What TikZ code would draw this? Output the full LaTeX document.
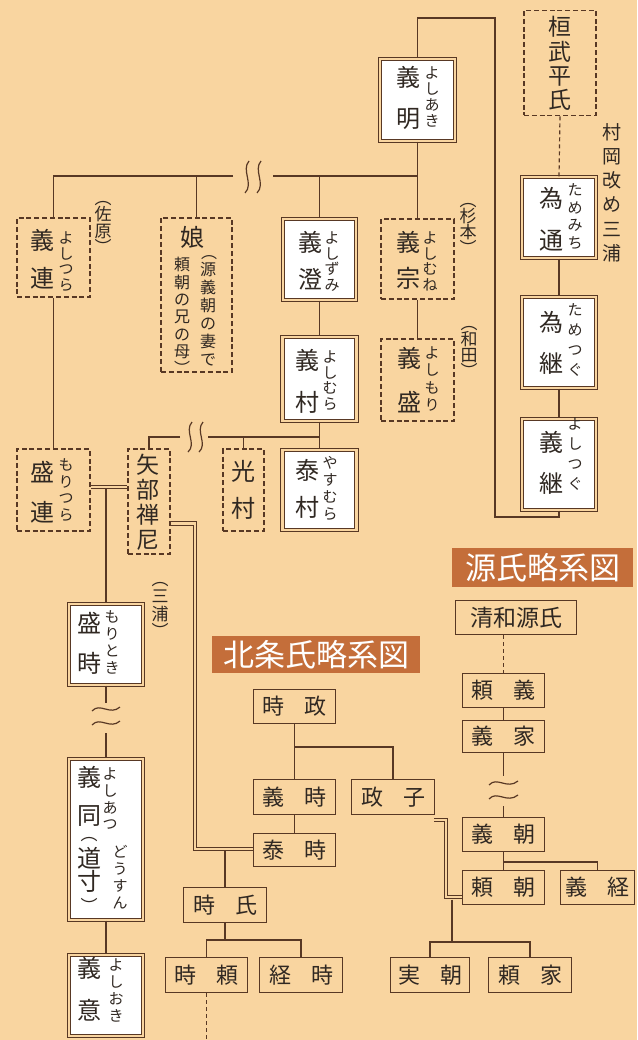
\documentclass[tikz,border=0pt]{standalone}
\usepackage{fontspec}
\newfontfamily\jp{Noto Sans CJK JP}
\definecolor{bgc}{RGB}{249,213,160}
\definecolor{lnc}{RGB}{88,56,36}
\definecolor{txc}{RGB}{48,40,34}
\definecolor{ttlc}{RGB}{196,110,58}
\tikzset{
  every node/.style={font=\jp, text=txc, inner sep=0pt},
  sz/.style n args={2}{minimum width=#1, minimum height=#2},
  conn/.style={draw=lnc, line width=1.3pt},
  dashconn/.style={draw=lnc, line width=1.2pt, dash pattern=on 4pt off 3pt},
  dconn/.style={draw=lnc, line width=1pt, double=bgc, double distance=2.6pt},
  wv/.style={draw=lnc, line width=1.2pt},
  dbox/.style={draw=lnc, line width=1.2pt, double=bgc, double distance=2.2pt, fill=white},
  nbox/.style={draw=lnc, line width=1.8pt, dash pattern=on 5pt off 2.8pt},
  sbox/.style={draw=lnc, line width=1.2pt, font=\jp\fontsize{22}{22}\selectfont},
  ttl/.style={fill=ttlc, text=white, font=\jp\fontsize{31}{31}\selectfont},
  vt/.style n args={2}{font=\jp\fontsize{#1}{#2}\selectfont, align=center},
}
\begin{document}
\begin{tikzpicture}[x=1pt,y=-1pt]
\fill[bgc] (0,0) rectangle (637,1040);
\useasboundingbox (0,0) rectangle (637,1040);

% ---------- helper row coordinates ----------
\coordinate (r18) at (0,18);
\coordinate (r176) at (0,176);
\coordinate (r437) at (0,437);
\coordinate (r487) at (0,487);
\coordinate (r517) at (0,517);
\coordinate (r523) at (0,523.5);
\coordinate (r747) at (0,747);
\coordinate (r849) at (0,849);
\coordinate (r862) at (0,862);
\coordinate (r897) at (0,897);
\coordinate (r940) at (0,940);
\coordinate (r942) at (0,942);
\coordinate (c495) at (495,0);
\coordinate (c195) at (195,0);
\coordinate (c446) at (446,0);

% ---------- Miura (upper part) boxes ----------
\node[nbox, sz={72}{105}] (kanmu) at (560,63) {};
\node[dbox, sz={74}{81}] (tamemichi) at (559,217.5) {};
\node[dbox, sz={74}{91}] (tametsugu) at (559,342.5) {};
\node[dbox, sz={74}{91}] (yoshitsugu) at (559,464.5) {};
\node[dbox, sz={75}{82}] (yoshiaki) at (417.5,100) {};
\node[nbox, sz={73}{79}] (yoshitsura) at (53.5,257.5) {};
\node[nbox, sz={71}{154}] (musume) at (196.5,295) {};
\node[dbox, sz={73}{81}] (yoshizumi) at (319.5,259.5) {};
\node[nbox, sz={73}{80}] (yoshimune) at (417.5,259) {};
\node[nbox, sz={73}{82}] (yoshimori) at (417.5,380) {};
\node[dbox, sz={74}{84}] (yoshimura) at (319.5,379) {};
\node[dbox, sz={74}{80}] (yasumura) at (319.5,490) {};
\node[nbox, sz={41}{82}] (mitsumura) at (243.5,490) {};
\node[nbox, sz={42}{105}] (yabe) at (149,501.5) {};
\node[nbox, sz={73}{82}] (moritsura) at (53.5,490) {};
\node[dbox, sz={74}{81}] (moritoki) at (106,644.5) {};
\node[dbox, sz={74}{161}] (yoshiatsu) at (106,839.5) {};
\node[dbox, sz={74}{81}] (yoshioki) at (106,995.5) {};

% ---------- texts in the upper part ----------
\node[vt={23}{24.3}] (kanmuT) at (560,63.5) {桓\\武\\平\\氏};
\node[vt={19}{24.2}] (muraokaT) at (612,192.5) {村\\岡\\改\\め\\三\\浦};
\node[vt={24}{42}] (tamemichiK) at (551,219) {為\\通};
\node[vt={15}{17.7}] (tamemichiR) at (575,216.5) {た\\め\\み\\ち};
\node[vt={24}{41}] (tametsuguK) at (551,342.5) {為\\継};
\node[vt={15}{20}] (tametsuguR) at (575,340) {た\\め\\つ\\ぐ};
\node[vt={24}{41}] (yoshitsuguK) at (551,462.5) {義\\継};
\node[vt={15}{20}] (yoshitsuguR) at (575,454) {よ\\し\\つ\\ぐ};
\node[vt={24}{41}] (yoshiakiK) at (408,97.5) {義\\明};
\node[vt={15}{16}] (yoshiakiR) at (432,97) {よ\\し\\あ\\き};
\node[vt={24}{38}] (yoshitsuraK) at (42.5,259) {義\\連};
\node[vt={15}{15.5}] (yoshitsuraR) at (66,261.5) {よ\\し\\つ\\ら};
\node[vt={17}{16.5}] (saharaT) at (103,227.5) {︵\\佐\\原\\︶};
\node[vt={24}{24}] (musumeK) at (192,237) {娘};
\node[vt={16}{16}] (musumeP) at (209,258) {︵};
\node[vt={16}{18}] (musumeR1) at (208,314) {源\\義\\朝\\の\\妻\\で};
\node[vt={16}{17.3}] (musumeR2) at (182,316) {頼\\朝\\の\\兄\\の\\母\\︶};
\node[vt={24}{37}] (yoshizumiK) at (310,260.5) {義\\澄};
\node[vt={15}{15.7}] (yoshizumiR) at (332,261.5) {よ\\し\\ず\\み};
\node[vt={24}{36}] (yoshimuneK) at (408,260) {義\\宗};
\node[vt={15}{15.7}] (yoshimuneR) at (430,261.5) {よ\\し\\む\\ね};
\node[vt={17}{16}] (sugimotoT) at (468,228.5) {︵\\杉\\本\\︶};
\node[vt={24}{44}] (yoshimoriK) at (409,380) {義\\盛};
\node[vt={15}{17.3}] (yoshimoriR) at (432,379) {よ\\し\\も\\り};
\node[vt={17}{16}] (wadaT) at (469,352) {︵\\和\\田\\︶};
\node[vt={24}{42}] (yoshimuraK) at (307,381) {義\\村};
\node[vt={15}{15.7}] (yoshimuraR) at (330,380.5) {よ\\し\\む\\ら};
\node[vt={24}{37}] (yasumuraK) at (307,488.5) {泰\\村};
\node[vt={15}{17}] (yasumuraR) at (330,488.5) {や\\す\\む\\ら};
\node[vt={24}{37}] (mitsumuraK) at (243.5,490) {光\\村};
\node[vt={23}{25}] (yabeK) at (148,502) {矢\\部\\禅\\尼};
\node[vt={24}{40}] (moritsuraK) at (42.5,492) {盛\\連};
\node[vt={15}{16.7}] (moritsuraR) at (66,490) {も\\り\\つ\\ら};
\node[vt={24}{40}] (moritokiK) at (89,643) {盛\\時};
\node[vt={15}{17}] (moritokiR) at (112,642.5) {も\\り\\と\\き};
\node[vt={17}{17.3}] (miuraT) at (160,610) {︵\\三\\浦\\︶};
\node[vt={24}{38}] (yoshiatsuK1) at (89,796) {義\\同};
\node[vt={17}{17}] (yoshiatsuP1) at (89,840) {︵};
\node[vt={24}{23}] (yoshiatsuK2) at (89,869.5) {道\\寸};
\node[vt={17}{17}] (yoshiatsuP2) at (89,905) {︶};
\node[vt={15}{16.7}] (yoshiatsuR1) at (110,799) {よ\\し\\あ\\つ};
\node[vt={15}{17}] (yoshiatsuR2) at (120,877.5) {ど\\う\\す\\ん};
\node[vt={24}{42}] (yoshiokiK) at (89,989) {義\\意};
\node[vt={15}{17}] (yoshiokiR) at (116,990.5) {よ\\し\\お\\き};

% ---------- connectors, upper part ----------
\draw[dashconn] (kanmu.south) -- (tamemichi.north);
\draw[conn] (tamemichi.south) -- (tametsugu.north);
\draw[conn] (tametsugu.south) -- (yoshitsugu.north);
\draw[conn] (yoshitsugu.south) -- (yoshitsugu.south |- r517) -- (c495 |- r517) -- (c495 |- r18) -- (yoshiaki.north |- r18) -- (yoshiaki.north);
\draw[conn] (yoshiaki.south) -- (yoshimune.north);
\draw[conn] (yoshiaki.south |- r176) -- (273,176);
\draw[conn] (233,176) -- (yoshitsura.north |- r176) -- (yoshitsura.north);
\draw[conn] (musume.north |- r176) -- (musume.north);
\draw[conn] (yoshizumi.north |- r176) -- (yoshizumi.north);
\draw[wv] (249,161) .. controls (241,170) and (254,184) .. (245,193);
\draw[wv] (261,161) .. controls (253,170) and (266,184) .. (257,193);
\draw[conn] (yoshimune.south) -- (yoshimori.north);
\draw[conn] (yoshizumi.south) -- (yoshimura.north);
\draw[conn] (yoshimura.south) -- (yasumura.north);
\draw[conn] (yasumura.north |- r437) -- (208,437);
\draw[conn] (180,437) -- (yabe.north |- r437) -- (yabe.north);
\draw[conn] (mitsumura.north |- r437) -- (mitsumura.north);
\draw[wv] (192,422) .. controls (184,431) and (197,444) .. (188,452);
\draw[wv] (203,422) .. controls (195,431) and (208,444) .. (199,452);
\draw[conn] (yoshitsura.south) -- (moritsura.north);
\draw[dconn] (moritsura.east |- r487) -- (yabe.west |- r487);
\coordinate (mj) at (106,489);
\draw[conn] (mj) -- (moritoki.north);
\draw[conn] (moritoki.south) -- (106,703);
\draw[wv] (92,711) .. controls (100,702) and (110,716) .. (120,707);
\draw[wv] (92,725) .. controls (100,716) and (110,730) .. (120,721);
\draw[conn] (106,733) -- (yoshiatsu.north);
\draw[conn] (yoshiatsu.south) -- (yoshioki.north);

% ---------- Hojo ----------
\node[ttl, sz={208}{37}] (hojoT) at (316,654.5) {北条氏略系図};
\node[sbox, sz={82}{34}] (tokimasa) at (294.5,706.5) {時\hspace{20pt}政};
\node[sbox, sz={82}{35}] (yoshitoki) at (294.5,797) {義\hspace{20pt}時};
\node[sbox, sz={83}{35}] (masako) at (393,797) {政\hspace{20pt}子};
\node[sbox, sz={82}{33}] (yasutoki) at (294.5,850) {泰\hspace{20pt}時};
\node[sbox, sz={83}{35}] (tokiuji) at (225,905) {時\hspace{20pt}氏};
\node[sbox, sz={82}{35}] (tokiyori) at (206.5,975) {時\hspace{20pt}頼};
\node[sbox, sz={83}{35}] (tsunetoki) at (301,975) {経\hspace{20pt}時};
\draw[conn] (tokimasa.south) -- (yoshitoki.north);
\draw[conn] (tokimasa.south |- r747) -| (masako.north);
\draw[conn] (yoshitoki.south) -- (yasutoki.north);
\draw[dconn] (yabe.east |- r523) -- (c195 |- r523) -- (c195 |- r849) -- (yasutoki.west |- r849);
\coordinate (tj) at (225,851);
\draw[conn] (tj) -- (tokiuji.north);
\draw[conn] (tokiuji.south) -- (tokiuji.south |- r940);
\draw[conn] (tokiyori.north) -- (tokiyori.north |- r940) -- (tsunetoki.north |- r940) -- (tsunetoki.north);
\coordinate (hend) at (206.5,1040);
\draw[dashconn] (tokiyori.south) -- (hend);

% ---------- Minamoto ----------
\node[ttl, sz={181}{39}] (genjiT) at (542.5,567.5) {源氏略系図};
\node[sbox, sz={121}{34}] (seiwa) at (516,617.5) {\fontsize{23}{23}\selectfont 清和源氏};
\node[sbox, sz={82}{34}] (yoriyoshi) at (503.5,690.5) {頼\hspace{20pt}義};
\node[sbox, sz={82}{32}] (yoshiie) at (503.5,736.5) {義\hspace{20pt}家};
\node[sbox, sz={82}{34}] (yoshitomo) at (503.5,834.5) {義\hspace{20pt}朝};
\node[sbox, sz={82}{34}] (yoritomo) at (503.5,887.5) {頼\hspace{20pt}朝};
\node[sbox, sz={74}{34}] (yoshitsune) at (597.5,887.5) {義\hspace{20pt}経};
\node[sbox, sz={79}{35}] (sanetomo) at (430,975) {実\hspace{20pt}朝};
\node[sbox, sz={83}{35}] (yoriie) at (530,975) {頼\hspace{20pt}家};
\draw[dashconn] (yoriyoshi.north |- seiwa.south) -- (yoriyoshi.north);
\draw[conn] (yoriyoshi.south) -- (yoshiie.north);
\draw[conn] (yoshiie.south) -- (503.5,776);
\draw[wv] (489,785) .. controls (497,776) and (507,790) .. (518,781);
\draw[wv] (489,799) .. controls (497,790) and (507,804) .. (518,795);
\draw[conn] (503.5,806) -- (yoshitomo.north);
\draw[conn] (yoshitomo.south) -- (yoritomo.north);
\draw[conn] (yoshitomo.south |- r862) -| (yoshitsune.north);
\coordinate (mk) at (434,820);
\draw[dconn] (mk) -- (c446 |- mk) -- (c446 |- r897) -- (yoritomo.west |- r897);
\coordinate (yj) at (452,899.5);
\draw[conn] (yj) -- (452,942);
\draw[conn] (sanetomo.north) -- (sanetomo.north |- r942) -- (yoriie.north |- r942) -- (yoriie.north);
\end{tikzpicture}
\end{document}
